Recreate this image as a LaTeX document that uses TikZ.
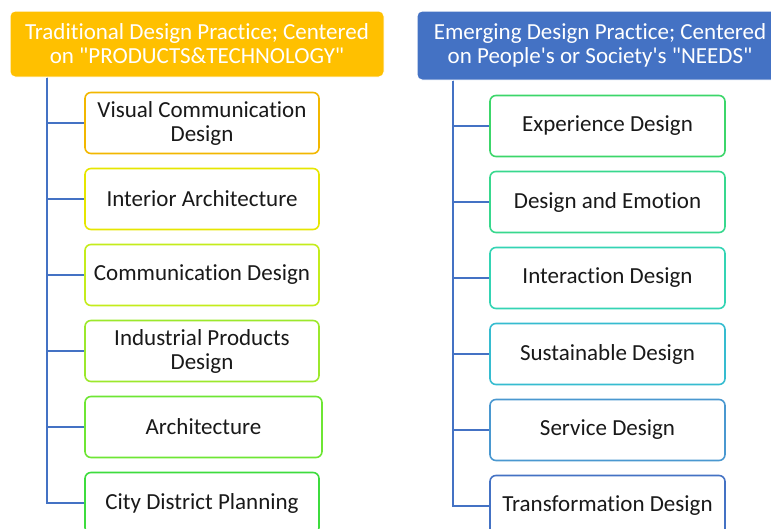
\documentclass[tikz,border=0pt]{standalone}
\usepackage{fontspec}
\setmainfont{Carlito}[Ligatures={TeXOff,NoCommon}]
\definecolor{hdrL}{HTML}{FFC000}
\definecolor{hdrR}{HTML}{4472C4}
\definecolor{lnk}{HTML}{4472C4}
\definecolor{la}{HTML}{F2B700}
\definecolor{lb}{HTML}{E6E600}
\definecolor{lc}{HTML}{C4EC1C}
\definecolor{ld}{HTML}{9CE82C}
\definecolor{le}{HTML}{6EE634}
\definecolor{lf}{HTML}{3EDC3E}
\definecolor{ra}{HTML}{3CD66A}
\definecolor{rb}{HTML}{38D88E}
\definecolor{rc}{HTML}{34D4B4}
\definecolor{rd}{HTML}{36BCD0}
\definecolor{re}{HTML}{4A98D0}
\definecolor{rf}{HTML}{4472C4}
\tikzset{
  hdr/.style={rounded corners=5pt, draw=white, line width=1pt, text=white, align=center,
    font=\fontsize{23}{24}\selectfont, inner sep=0pt},
  itembox/.style={rounded corners=6pt, fill=white, line width=1.6pt, align=center,
    font=\fontsize{23}{24}\selectfont, text=black!90, inner sep=0pt, minimum height=61pt},
  lnkline/.style={draw=lnk, line width=1.6pt}
}
\begin{document}
\begin{tikzpicture}[x=1pt,y=-1pt]
\useasboundingbox (0,0) rectangle (771,528);
\clip (0,0) rectangle (771,528);
% headers
\node[hdr, fill=hdrL, minimum width=374pt, minimum height=66pt] (L0) at (197,44)
  {Traditional Design Practice; Centered\\on "PRODUCTS\&TECHNOLOGY"};
\node[hdr, fill=hdrR, minimum width=366pt, minimum height=69pt] (R0) at (600,45.5)
  {Emerging Design Practice; Centered\\on People's or Society's "NEEDS"};
% trunk coordinates
\coordinate (Lt) at (47,503);
\coordinate (Rt) at (453,506);
% left items
\node[itembox, draw=la, minimum width=234pt] (L1) at (202,123) {Visual Communication\\Design};
\node[itembox, draw=lb, minimum width=234pt] (L2) at (202,199) {Interior Architecture};
\node[itembox, draw=lc, minimum width=234pt] (L3) at (202,275) {Communication Design};
\node[itembox, draw=ld, minimum width=234pt] (L4) at (202,351) {Industrial Products\\Design};
\node[itembox, draw=le, minimum width=237pt] (L5) at (203.5,427) {Architecture};
\node[itembox, draw=lf, minimum width=234pt] (L6) at (202,503) {City District Planning};
% right items
\node[itembox, draw=ra, minimum width=235pt] (R1) at (607.5,126) {Experience Design};
\node[itembox, draw=rb, minimum width=235pt] (R2) at (607.5,202) {Design and Emotion};
\node[itembox, draw=rc, minimum width=235pt] (R3) at (607.5,278) {Interaction Design};
\node[itembox, draw=rd, minimum width=235pt] (R4) at (607.5,354) {Sustainable Design};
\node[itembox, draw=re, minimum width=235pt] (R5) at (607.5,430) {Service Design};
\node[itembox, draw=rf, minimum width=235pt] (R6) at (607.5,506) {Transformation Design};
% connectors
\foreach \i in {1,...,6} {
  \draw[lnkline] (L0.south -| Lt) |- (L\i.west);
  \draw[lnkline] (R0.south -| Rt) |- (R\i.west);
}
\end{tikzpicture}
\end{document}
